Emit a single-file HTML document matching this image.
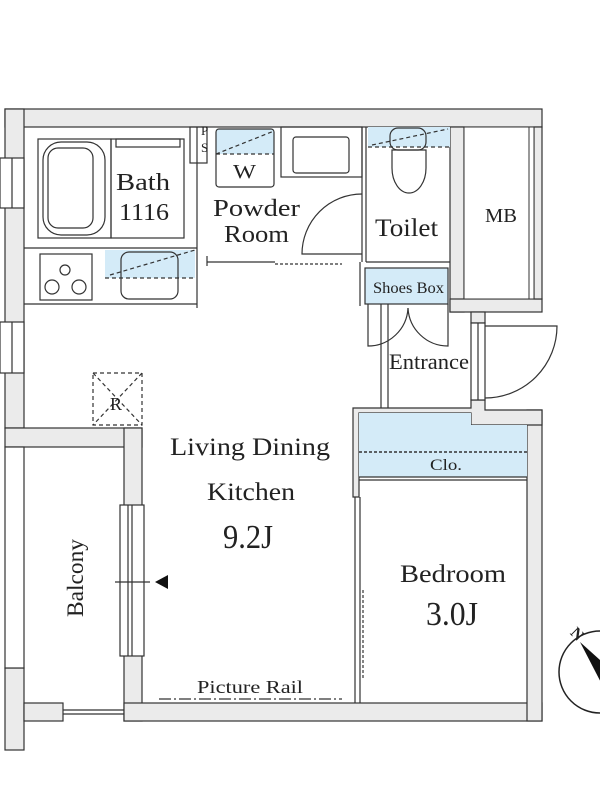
<!DOCTYPE html>
<html><head><meta charset="utf-8"><style>
html,body{margin:0;padding:0;background:#fff;}
svg{display:block;}
text{font-family:"Liberation Serif",serif;fill:#222;}
</style></head><body>
<svg width="600" height="800" viewBox="0 0 600 800" xmlns="http://www.w3.org/2000/svg">
<g fill="#ebebeb" stroke="#333" stroke-width="1.2">
<rect x="5" y="109" width="537" height="18"/>
<rect x="5" y="109" width="19" height="319"/>
<rect x="5" y="428" width="137" height="19"/>
<rect x="124" y="428" width="18" height="293"/>
<rect x="124" y="703" width="418" height="18"/>
<rect x="527" y="410" width="15" height="311"/>
<rect x="450" y="127" width="14" height="185"/>
<rect x="450" y="299" width="92" height="13"/>
<rect x="534" y="127" width="8" height="172"/>
<rect x="471" y="312" width="14" height="11"/>
<path d="M353 408 H471 V400 H485 V410 H542 V425 H485 V425 H471 V413 H359 V497 H353 Z"/>
<rect x="5" y="668" width="19" height="82"/>
<rect x="24" y="703" width="39" height="18"/>
</g>
<g fill="#fff" stroke="#333" stroke-width="1.2">
<rect x="0" y="158" width="24" height="50"/>
<line x1="12" y1="158" x2="12" y2="208"/>
<rect x="0" y="322" width="24" height="51"/>
<line x1="12" y1="322" x2="12" y2="373"/>
<rect x="5" y="447" width="19" height="221"/>
<rect x="120" y="505" width="24" height="151"/>
<line x1="128" y1="505" x2="128" y2="656"/><line x1="132" y1="505" x2="132" y2="656"/>
<rect x="471" y="323" width="14" height="77"/>
<line x1="478" y1="323" x2="478" y2="400"/>
<line x1="63" y1="710" x2="124" y2="710"/><line x1="63" y1="714" x2="124" y2="714"/>
</g>
<rect x="464" y="127" width="70" height="172" fill="#fff" stroke="#333"/>
<line x1="529" y1="127" x2="529" y2="299" stroke="#333"/>
<g fill="#d4ebf8">
<path d="M359 413 H471 V425 H527 V477 H359 Z"/>
<rect x="365" y="268" width="83" height="36"/>
<rect x="105" y="250" width="90" height="28"/>
<rect x="216" y="129" width="58" height="25"/>
<rect x="368" y="127" width="82" height="20"/>
</g>
<g fill="none" stroke="#333" stroke-width="1.2">
<rect x="365" y="268" width="83" height="36"/>
<line x1="359" y1="452" x2="527" y2="452" stroke-dasharray="3 2" stroke-width="1.5"/>
<line x1="359" y1="477" x2="527" y2="477"/>
<line x1="359" y1="480" x2="527" y2="480"/>
<rect x="38" y="139" width="73" height="99"/>
<rect x="43" y="142" width="62" height="93" rx="18"/>
<rect x="48" y="148" width="45" height="80" rx="10"/>
<rect x="111" y="139" width="73" height="99"/>
<rect x="116" y="139" width="64" height="8"/>
<line x1="24" y1="248" x2="197" y2="248"/>
<line x1="24" y1="304" x2="197" y2="304"/>
<line x1="197" y1="127" x2="197" y2="308"/>
<rect x="190" y="127" width="17" height="36"/>
<rect x="40" y="254" width="52" height="46"/>
<circle cx="65" cy="270" r="5"/><circle cx="52" cy="287" r="7"/><circle cx="79" cy="287" r="7"/>
<rect x="121" y="252" width="57" height="47" rx="8"/>
<line x1="105" y1="278" x2="195" y2="278" stroke-dasharray="4 3"/>
<line x1="110" y1="275" x2="195" y2="250" stroke-dasharray="4 3"/>
<rect x="216" y="129" width="58" height="58" rx="3"/>
<line x1="216" y1="154" x2="274" y2="154" stroke-dasharray="4 3"/>
<line x1="216" y1="154" x2="274" y2="131" stroke-dasharray="4 3"/>
<rect x="281" y="127" width="81" height="50"/>
<rect x="293" y="137" width="56" height="36" rx="3"/>
<line x1="362" y1="127" x2="362" y2="262"/>
<line x1="366" y1="127" x2="366" y2="262"/>
<path d="M362 194 A60 60 0 0 0 302 254 H362"/>
<line x1="207" y1="262" x2="275" y2="262"/>
<line x1="275" y1="264" x2="342" y2="264" stroke-dasharray="3 2"/>
<line x1="207" y1="256" x2="207" y2="266"/>
<line x1="366" y1="262" x2="450" y2="262"/>
<line x1="360" y1="262" x2="360" y2="306"/>
<line x1="368" y1="147" x2="450" y2="147" stroke-dasharray="4 3"/>
<line x1="372" y1="145" x2="448" y2="129" stroke-dasharray="4 3"/>
<rect x="390" y="128" width="36" height="22" rx="8"/>
<path d="M392 150 V168 A17 25 0 0 0 426 168 V150 Z"/>
<line x1="381" y1="304" x2="381" y2="408"/>
<line x1="388" y1="304" x2="388" y2="408"/>
<path d="M368 304 V346 A40 40 0 0 0 408 308"/><path d="M448 304 V346 A40 40 0 0 1 408 308"/>
<path d="M485 326 H557 A72 72 0 0 1 485 398"/>
<line x1="355" y1="497" x2="355" y2="703"/>
<line x1="360" y1="497" x2="360" y2="703"/>
<line x1="363" y1="590" x2="363" y2="678" stroke-dasharray="3 2"/>
<rect x="93" y="373" width="49" height="52" stroke-dasharray="4 3"/>
<line x1="93" y1="373" x2="142" y2="425" stroke-dasharray="4 3"/>
<line x1="142" y1="373" x2="93" y2="425" stroke-dasharray="4 3"/>
<line x1="159" y1="699" x2="342" y2="699" stroke-dasharray="12 3 2 3"/>
<line x1="115" y1="582" x2="150" y2="582"/>
</g>
<polygon points="155,582 168,575 168,589" fill="#111"/>
<circle cx="600" cy="672" r="41" fill="none" stroke="#222" stroke-width="1.5"/>
<polygon points="580,642 600,660 610,700" fill="#111"/>
<text x="573" y="635" font-family="Liberation Sans,sans-serif" font-weight="bold" font-size="16" transform="rotate(45 573 630)">N</text>
<g>
<text x="116" y="190" font-size="24" textLength="54" lengthAdjust="spacingAndGlyphs">Bath</text>
<text x="119" y="220" font-size="24" textLength="50" lengthAdjust="spacingAndGlyphs">1116</text>
<text x="233" y="178" font-size="20" textLength="23" lengthAdjust="spacingAndGlyphs">W</text>
<text x="213" y="216" font-size="24" textLength="87" lengthAdjust="spacingAndGlyphs">Powder</text>
<text x="224" y="242" font-size="24" textLength="65" lengthAdjust="spacingAndGlyphs">Room</text>
<text x="375" y="236" font-size="25" textLength="63" lengthAdjust="spacingAndGlyphs">Toilet</text>
<text x="485" y="222" font-size="20" textLength="32" lengthAdjust="spacingAndGlyphs">MB</text>
<text x="373" y="293" font-size="16" textLength="71" lengthAdjust="spacingAndGlyphs">Shoes Box</text>
<text x="389" y="369" font-size="22" textLength="80" lengthAdjust="spacingAndGlyphs">Entrance</text>
<text x="110" y="410" font-size="18">R</text>
<text x="170" y="455" font-size="25" textLength="160" lengthAdjust="spacingAndGlyphs">Living Dining</text>
<text x="207" y="500" font-size="25" textLength="88" lengthAdjust="spacingAndGlyphs">Kitchen</text>
<text x="223" y="548" font-size="34" textLength="50" lengthAdjust="spacingAndGlyphs">9.2J</text>
<text x="430" y="470" font-size="16" textLength="32" lengthAdjust="spacingAndGlyphs">Clo.</text>
<text x="400" y="582" font-size="25" textLength="106" lengthAdjust="spacingAndGlyphs">Bedroom</text>
<text x="426" y="625" font-size="34" textLength="52" lengthAdjust="spacingAndGlyphs">3.0J</text>
<text x="197" y="693" font-size="18" textLength="106" lengthAdjust="spacingAndGlyphs">Picture Rail</text>
<text x="83" y="617" font-size="23" textLength="78" lengthAdjust="spacingAndGlyphs" transform="rotate(-90 83 617)">Balcony</text>
<text x="201" y="135" font-size="13">P</text>
<text x="201" y="152" font-size="13">S</text>
</g>
</svg>
</body></html>
